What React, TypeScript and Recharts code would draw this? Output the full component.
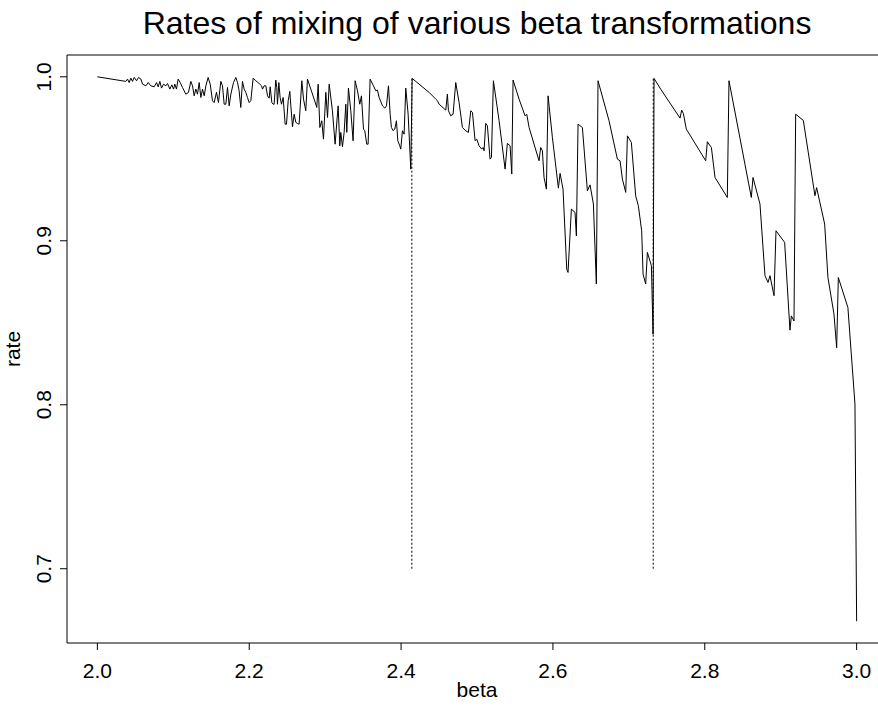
import { LineChart, Line, XAxis, YAxis, ReferenceLine, ReferenceArea } from 'recharts';

const betaValues = [
  2.0, 2.0375, 2.0397, 2.0419, 2.0441, 2.0463, 2.0485, 2.0516, 2.0542, 2.0573,
  2.0595, 2.0639, 2.0669, 2.0704, 2.0748, 2.0779, 2.0801, 2.0823, 2.0845, 2.0871,
  2.0902, 2.0924, 2.0955, 2.0981, 2.1003, 2.102, 2.1042, 2.1064, 2.1091, 2.1121,
  2.1165, 2.12, 2.1231, 2.1253, 2.1275, 2.1297, 2.1319, 2.1341, 2.1363, 2.1385,
  2.1407, 2.1429, 2.1459, 2.1486, 2.1516, 2.1538, 2.1569, 2.1595, 2.1626, 2.1648,
  2.167, 2.1692, 2.1714, 2.1736, 2.1758, 2.1793, 2.1824, 2.1846, 2.1867, 2.1889,
  2.1911, 2.1933, 2.1955, 2.1977, 2.1999, 2.2021, 2.2052, 2.2087, 2.2131, 2.2162,
  2.2175, 2.2197, 2.2219, 2.2241, 2.2263, 2.2276, 2.2298, 2.2315, 2.2328, 2.235,
  2.2363, 2.2372, 2.239, 2.2407, 2.2425, 2.2447, 2.2473, 2.2491, 2.2513, 2.2535,
  2.2548, 2.257, 2.2592, 2.2614, 2.2636, 2.2657, 2.2693, 2.2715, 2.2745, 2.2767,
  2.2811, 2.2855, 2.289, 2.2908, 2.293, 2.2956, 2.2978, 2.3009, 2.3031, 2.3053,
  2.3096, 2.3131, 2.3171, 2.3193, 2.3206, 2.3228, 2.325, 2.3272, 2.3285, 2.3307,
  2.3338, 2.3368, 2.3395, 2.3426, 2.3456, 2.3478, 2.3505, 2.3522, 2.3548, 2.3566,
  2.3592, 2.3636, 2.3667, 2.3689, 2.3711, 2.3755, 2.3786, 2.3808, 2.3834, 2.3856,
  2.3873, 2.3895, 2.3917, 2.3939, 2.3957, 2.3983, 2.3996, 2.4018, 2.404, 2.4062,
  2.4093, 2.4128, 2.4146, 2.4369, 2.4457, 2.4479, 2.4501, 2.4589, 2.461, 2.4624,
  2.4654, 2.4685, 2.472, 2.4764, 2.4808, 2.4852, 2.4887, 2.4918, 2.494, 2.4975,
  2.4997, 2.5027, 2.5062, 2.508, 2.5093, 2.5115, 2.5137, 2.5172, 2.519, 2.5216,
  2.5291, 2.537, 2.54, 2.5436, 2.5458, 2.5475, 2.5554, 2.5633, 2.5655, 2.5686,
  2.5817, 2.5839, 2.5861, 2.5883, 2.5914, 2.5936, 2.5993, 2.605, 2.6072, 2.6094,
  2.6133, 2.6182, 2.6199, 2.6243, 2.6291, 2.6309, 2.6331, 2.6388, 2.6454, 2.6489,
  2.6533, 2.6572, 2.6594, 2.6739, 2.6849, 2.6884, 2.6915, 2.6959, 2.6981, 2.7033,
  2.709, 2.7125, 2.7169, 2.7187, 2.7222, 2.7244, 2.7297, 2.7319, 2.7332, 2.7419,
  2.7674, 2.7696, 2.7718, 2.7757, 2.8012, 2.8034, 2.8087, 2.8135, 2.8297, 2.8319,
  2.8613, 2.8635, 2.8727, 2.8793, 2.8833, 2.8859, 2.8912, 2.8938, 2.9052, 2.9122,
  2.914, 2.9175, 2.9197, 2.9298, 2.9451, 2.9473, 2.9579, 2.9622, 2.9701, 2.9737,
  2.9759, 2.9885, 2.9978, 3.0,
];

const rateValues = [
  1.0, 0.9972, 0.9986, 0.9965, 0.9992, 0.9972, 0.9996, 0.9976, 0.9996, 0.9986,
  0.9955, 0.9945, 0.9965, 0.9945, 0.9939, 0.9965, 0.9939, 0.9972, 0.9931, 0.9955,
  0.9945, 0.9959, 0.9925, 0.9951, 0.9925, 0.9955, 0.9925, 0.9986, 0.9965, 0.9935,
  0.9894, 0.9905, 0.9972, 0.9945, 0.9884, 0.9925, 0.9894, 0.9965, 0.9874, 0.9925,
  0.9884, 0.9945, 0.9996, 0.9955, 0.9854, 0.9843, 0.9905, 0.9843, 0.9972, 0.9945,
  0.9833, 0.9833, 0.9935, 0.9823, 0.9894, 0.9965, 0.9996, 0.9965, 0.9915, 0.9813,
  0.9972, 0.9925, 0.9905, 0.9874, 0.9843, 0.9854, 0.9992, 0.9976, 0.9959, 0.9945,
  0.9925, 0.9945, 0.9945, 0.9884, 0.987, 0.9939, 0.9843, 0.9833, 0.9833, 0.998,
  0.9935, 0.9833, 0.9965, 0.9874, 0.9833, 0.9874, 0.9711, 0.9711, 0.9854, 0.9911,
  0.9823, 0.9695, 0.9772, 0.9722, 0.9715, 0.9711, 0.9976, 0.9864, 0.9793, 0.9986,
  0.9925, 0.9864, 0.9813, 0.9955, 0.9691, 0.9732, 0.962, 0.9905, 0.9752, 0.9955,
  0.9793, 0.9589, 0.9823, 0.9579, 0.9661, 0.9573, 0.9661, 0.9833, 0.9661, 0.9931,
  0.9793, 0.961, 0.9976, 0.9915, 0.9833, 0.9884, 0.9681, 0.9671, 0.9589, 0.9589,
  0.9986, 0.9945, 0.9915, 0.9919, 0.9874, 0.9823, 0.9809, 0.9823, 0.9945, 0.9772,
  0.9691, 0.9671, 0.9681, 0.9732, 0.961, 0.9579, 0.9559, 0.9671, 0.965, 0.9931,
  0.9772, 0.9437, 0.999, 0.9905, 0.9864, 0.9854, 0.9833, 0.9797, 0.9894, 0.9793,
  0.9762, 0.9772, 0.9965, 0.9843, 0.9691, 0.9671, 0.9661, 0.9793, 0.9783, 0.961,
  0.962, 0.9579, 0.9559, 0.9569, 0.9549, 0.9716, 0.9702, 0.9498, 0.9508, 0.9976,
  0.9732, 0.9437, 0.9594, 0.9579, 0.9407, 0.998, 0.9864, 0.9762, 0.9772, 0.9691,
  0.9488, 0.9569, 0.9549, 0.9386, 0.9315, 0.9884, 0.963, 0.9407, 0.9321, 0.9411,
  0.9315, 0.8827, 0.8807, 0.9193, 0.9173, 0.903, 0.9711, 0.9691, 0.9305, 0.9341,
  0.9224, 0.8736, 0.9976, 0.9732, 0.9498, 0.9488, 0.9376, 0.9295, 0.964, 0.96,
  0.9274, 0.9214, 0.9061, 0.8797, 0.8736, 0.8929, 0.8848, 0.843, 0.999, 0.9925,
  0.9748, 0.9797, 0.9776, 0.9681, 0.9488, 0.9604, 0.9569, 0.9386, 0.9264, 0.9976,
  0.9264, 0.9386, 0.9224, 0.8787, 0.8746, 0.8787, 0.8665, 0.9061, 0.899, 0.8455,
  0.8542, 0.8511, 0.9772, 0.9734, 0.9275, 0.9324, 0.9102, 0.8776, 0.8555, 0.8348,
  0.8776, 0.8593, 0.8004, 0.668,
];

// dotted guides at 1+sqrt(2) and 1+sqrt(3)
const guideBetas = [2.4142, 2.7321];
const guideRates = [0.7, 1.0];

const betaTicks = [2.0, 2.2, 2.4, 2.6, 2.8, 3.0];
const rateTicks = [0.7, 0.8, 0.9, 1.0];

// R pads the data range by 4% on each side
const xDomain = [1.96, 3.04];
const yDomain = [0.6547, 1.0133];

const FONT = '"Liberation Sans", Arial, Helvetica, sans-serif';

const data = betaValues.map((beta, i) => ({ beta, rate: rateValues[i] }));

function RateTick({ x, y, payload }: any) {
  return (
    <text
      x={x}
      y={y}
      transform={`rotate(-90 ${x} ${y})`}
      textAnchor="middle"
      fontSize={21}
      fontFamily={FONT}
      fill="#000"
    >
      {Number(payload.value).toFixed(1)}
    </text>
  );
}

export default function App() {
  // the plot region runs past the right edge of the picture, as in the original
  return (
    <div
      style={{
        position: 'absolute',
        left: 0,
        top: 0,
        width: 878,
        height: 707,
        overflow: 'hidden',
        background: '#fff',
      }}
    >
      <LineChart
        width={893}
        height={707}
        data={data}
        margin={{ top: 55, right: 6, bottom: 4, left: 7 }}
      >
        <XAxis
          dataKey="beta"
          type="number"
          domain={xDomain}
          ticks={betaTicks}
          allowDataOverflow
          tickFormatter={(v: number) => v.toFixed(1)}
          axisLine={false}
          tickSize={7}
          tickMargin={13}
          height={60}
          stroke="#000"
          tick={{ fill: '#000', fontSize: 21, fontFamily: FONT }}
        />
        <YAxis
          type="number"
          domain={yDomain}
          ticks={rateTicks}
          allowDataOverflow
          axisLine={false}
          tickSize={7}
          tickMargin={9}
          width={60}
          stroke="#000"
          tick={<RateTick />}
        />
        <ReferenceArea
          x1={xDomain[0]}
          x2={xDomain[1]}
          y1={yDomain[0]}
          y2={yDomain[1]}
          fill="none"
          fillOpacity={0}
          stroke="#000"
          strokeWidth={1}
          ifOverflow="visible"
        />
        {guideBetas.map((b) => (
          <ReferenceLine
            key={b}
            segment={[
              { x: b, y: guideRates[0] },
              { x: b, y: guideRates[1] },
            ]}
            stroke="#000"
            strokeDasharray="2 2"
            strokeWidth={1}
          />
        ))}
        <Line
          dataKey="rate"
          type="linear"
          stroke="#000"
          strokeWidth={1}
          dot={false}
          isAnimationActive={false}
        />
      </LineChart>
      <svg
        width={878}
        height={707}
        style={{ position: 'absolute', left: 0, top: 0, pointerEvents: 'none' }}
        fontFamily={FONT}
      >
        <text x={477} y={34} textAnchor="middle" fontSize={32} fill="#000">
          Rates of mixing of various beta transformations
        </text>
        <text x={477} y={697} textAnchor="middle" fontSize={21} fill="#000">
          beta
        </text>
        <text x={20} y={349} transform="rotate(-90 20 349)" textAnchor="middle" fontSize={21} fill="#000">
          rate
        </text>
      </svg>
    </div>
  );
}
